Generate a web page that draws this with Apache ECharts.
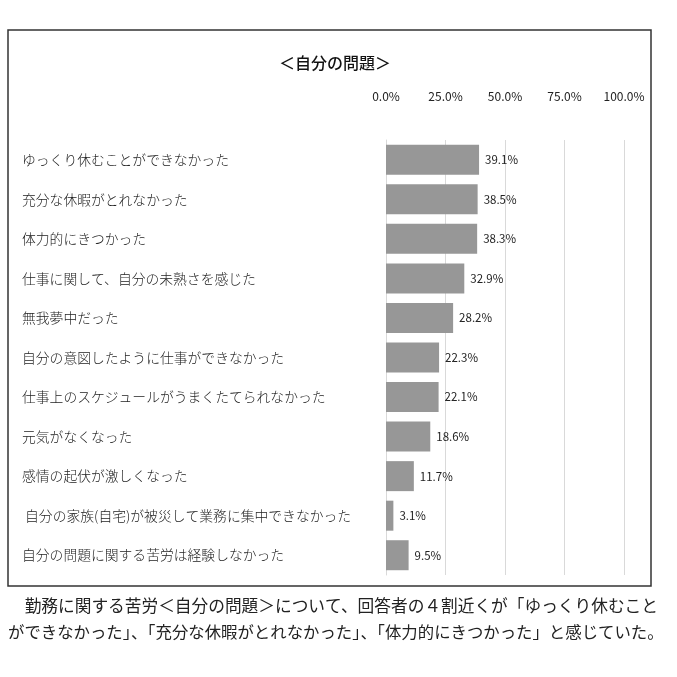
<!DOCTYPE html>
<html>
<head>
<meta charset="utf-8">
<script src="https://cdn.jsdelivr.net/npm/echarts@6/dist/echarts.min.js"></script>
<style>
  html, body { margin: 0; padding: 0; background: #fff; }
  #main { width: 677px; height: 677px; }
</style>
</head>
<body>
<div id="main"></div>
<script>
// 設問項目と回答割合(%)
const categories = [
  'ゆっくり休むことができなかった',
  '充分な休暇がとれなかった',
  '体力的にきつかった',
  '仕事に関して、自分の未熟さを感じた',
  '無我夢中だった',
  '自分の意図したように仕事ができなかった',
  '仕事上のスケジュールがうまくたてられなかった',
  '元気がなくなった',
  '感情の起伏が激しくなった',
  ' 自分の家族(自宅)が被災して業務に集中できなかった',
  '自分の問題に関する苦労は経験しなかった'
];
const values = [39.1, 38.5, 38.3, 32.9, 28.2, 22.3, 22.1, 18.6, 11.7, 3.1, 9.5];
const axisTicks = [0, 25, 50, 75, 100];

const titleText = '＜自分の問題＞';
const noteLines = [
  '　勤務に関する苦労＜自分の問題＞について、回答者の４割近くが「ゆっくり休むこと',
  'ができなかった」、「充分な休暇がとれなかった」、「体力的にきつかった」と感じていた。'
];

const font = '"Noto Sans CJK JP", "Noto Sans", sans-serif';
const chart = echarts.init(document.getElementById('main'));

chart.setOption({
  animation: false,
  textStyle: { fontFamily: font },
  title: {
    text: titleText,
    left: 330,
    top: 50,
    textAlign: 'center',
    textStyle: { fontSize: 16, fontWeight: 500, color: '#111', fontFamily: font }
  },
  grid: { left: 386, right: 53, top: 140, bottom: 102 },
  xAxis: {
    type: 'value',
    position: 'top',
    min: axisTicks[0],
    max: axisTicks[axisTicks.length - 1],
    interval: 25,
    axisLine: { show: false },
    axisTick: { show: false },
    axisLabel: {
      margin: 38,
      fontSize: 12,
      color: '#222',
      fontFamily: font,
      formatter: v => v.toFixed(1) + '%'
    },
    splitLine: { lineStyle: { color: '#d9d9d9', width: 1 } }
  },
  yAxis: {
    type: 'category',
    inverse: true,
    data: categories,
    axisLine: { lineStyle: { color: '#d9d9d9' } },
    axisTick: { show: false },
    axisLabel: {
      align: 'left',
      margin: 364,
      fontSize: 13.8,
      fontWeight: 300,
      color: '#222',
      fontFamily: font
    }
  },
  series: [{
    type: 'bar',
    data: values,
    barWidth: 30,
    itemStyle: { color: '#979797' },
    label: {
      show: true,
      position: 'right',
      distance: 6,
      fontSize: 11.5,
      color: '#222',
      fontFamily: font,
      formatter: p => p.value.toFixed(1) + '%'
    }
  }],
  graphic: [
    {
      type: 'rect',
      shape: { x: 8, y: 30, width: 643, height: 556 },
      style: { fill: 'none', stroke: '#333', lineWidth: 1.5 },
      z: 10
    },
    {
      type: 'text',
      left: 8,
      top: 597,
      style: { text: noteLines[0], font: '16.7px ' + font, fill: '#222' }
    },
    {
      type: 'text',
      left: 8,
      top: 624,
      style: { text: noteLines[1], font: '16.4px ' + font, fill: '#222' }
    }
  ]
});
</script>
</body>
</html>
